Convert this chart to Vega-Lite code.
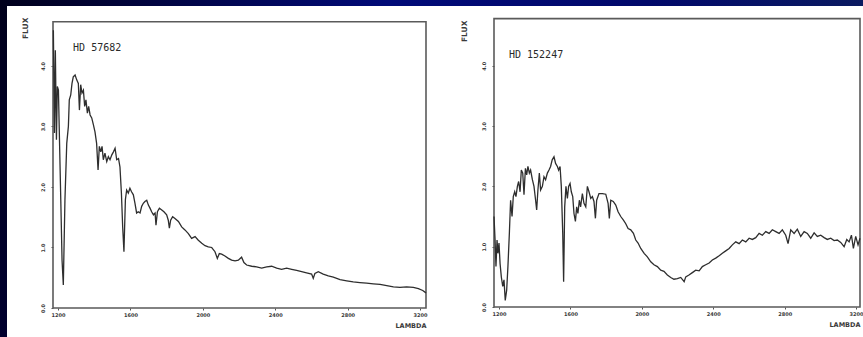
{
  "$schema": "https://vega.github.io/schema/vega-lite/v6.json",
  "padding": 0,
  "background": "white",
  "spacing": 0,
  "config": {
    "view": {"stroke": null},
    "axis": {"grid": false, "domain": false, "tickSize": 2, "tickColor": "#555", "labelColor": "#3a3a3a", "labelFont": "DejaVu Sans", "labelFontWeight": "bold", "titleFont": "DejaVu Sans", "titleFontWeight": "bold", "titleColor": "#3a3a3a"}
  },
  "datasets": {
    "hd57682": [
      {"wavelength": 1174, "flux": 4.59}, {"wavelength": 1180, "flux": 2.89}, {"wavelength": 1185, "flux": 4.26}, {"wavelength": 1191, "flux": 2.78}, {"wavelength": 1196, "flux": 3.66}, {"wavelength": 1202, "flux": 3.60}, {"wavelength": 1207, "flux": 2.89}, {"wavelength": 1215, "flux": 1.79}, {"wavelength": 1222, "flux": 0.79}, {"wavelength": 1229, "flux": 0.38}, {"wavelength": 1238, "flux": 1.79}, {"wavelength": 1248, "flux": 2.72}, {"wavelength": 1257, "flux": 3.00}, {"wavelength": 1262, "flux": 3.44}, {"wavelength": 1270, "flux": 3.52}, {"wavelength": 1277, "flux": 3.71}, {"wavelength": 1284, "flux": 3.82}, {"wavelength": 1294, "flux": 3.85}, {"wavelength": 1303, "flux": 3.77}, {"wavelength": 1312, "flux": 3.71}, {"wavelength": 1318, "flux": 3.27}, {"wavelength": 1325, "flux": 3.69}, {"wavelength": 1332, "flux": 3.55}, {"wavelength": 1340, "flux": 3.60}, {"wavelength": 1347, "flux": 3.33}, {"wavelength": 1354, "flux": 3.44}, {"wavelength": 1362, "flux": 3.22}, {"wavelength": 1369, "flux": 3.33}, {"wavelength": 1377, "flux": 3.19}, {"wavelength": 1386, "flux": 3.14}, {"wavelength": 1395, "flux": 3.03}, {"wavelength": 1404, "flux": 2.91}, {"wavelength": 1413, "flux": 2.72}, {"wavelength": 1421, "flux": 2.28}, {"wavelength": 1428, "flux": 2.67}, {"wavelength": 1436, "flux": 2.58}, {"wavelength": 1443, "flux": 2.67}, {"wavelength": 1450, "flux": 2.45}, {"wavelength": 1459, "flux": 2.56}, {"wavelength": 1469, "flux": 2.42}, {"wavelength": 1478, "flux": 2.50}, {"wavelength": 1487, "flux": 2.45}, {"wavelength": 1497, "flux": 2.53}, {"wavelength": 1506, "flux": 2.58}, {"wavelength": 1515, "flux": 2.64}, {"wavelength": 1524, "flux": 2.45}, {"wavelength": 1534, "flux": 2.47}, {"wavelength": 1542, "flux": 2.33}, {"wavelength": 1550, "flux": 1.90}, {"wavelength": 1557, "flux": 1.34}, {"wavelength": 1564, "flux": 0.93}, {"wavelength": 1572, "flux": 1.79}, {"wavelength": 1579, "flux": 1.95}, {"wavelength": 1588, "flux": 1.90}, {"wavelength": 1597, "flux": 1.98}, {"wavelength": 1606, "flux": 1.92}, {"wavelength": 1616, "flux": 1.87}, {"wavelength": 1625, "flux": 1.73}, {"wavelength": 1634, "flux": 1.57}, {"wavelength": 1643, "flux": 1.59}, {"wavelength": 1653, "flux": 1.57}, {"wavelength": 1662, "flux": 1.68}, {"wavelength": 1671, "flux": 1.73}, {"wavelength": 1680, "flux": 1.76}, {"wavelength": 1690, "flux": 1.78}, {"wavelength": 1699, "flux": 1.70}, {"wavelength": 1708, "flux": 1.65}, {"wavelength": 1717, "flux": 1.59}, {"wavelength": 1727, "flux": 1.54}, {"wavelength": 1736, "flux": 1.57}, {"wavelength": 1741, "flux": 1.37}, {"wavelength": 1749, "flux": 1.59}, {"wavelength": 1760, "flux": 1.65}, {"wavelength": 1773, "flux": 1.62}, {"wavelength": 1785, "flux": 1.59}, {"wavelength": 1800, "flux": 1.54}, {"wavelength": 1809, "flux": 1.45}, {"wavelength": 1815, "flux": 1.32}, {"wavelength": 1822, "flux": 1.45}, {"wavelength": 1833, "flux": 1.51}, {"wavelength": 1846, "flux": 1.48}, {"wavelength": 1865, "flux": 1.43}, {"wavelength": 1883, "flux": 1.34}, {"wavelength": 1901, "flux": 1.29}, {"wavelength": 1920, "flux": 1.23}, {"wavelength": 1938, "flux": 1.15}, {"wavelength": 1957, "flux": 1.18}, {"wavelength": 1975, "flux": 1.12}, {"wavelength": 1994, "flux": 1.07}, {"wavelength": 2012, "flux": 1.03}, {"wavelength": 2030, "flux": 1.01}, {"wavelength": 2049, "flux": 1.00}, {"wavelength": 2067, "flux": 0.93}, {"wavelength": 2080, "flux": 0.82}, {"wavelength": 2091, "flux": 0.90}, {"wavelength": 2104, "flux": 0.89}, {"wavelength": 2122, "flux": 0.86}, {"wavelength": 2141, "flux": 0.82}, {"wavelength": 2159, "flux": 0.79}, {"wavelength": 2178, "flux": 0.78}, {"wavelength": 2196, "flux": 0.79}, {"wavelength": 2214, "flux": 0.84}, {"wavelength": 2227, "flux": 0.75}, {"wavelength": 2242, "flux": 0.71}, {"wavelength": 2270, "flux": 0.69}, {"wavelength": 2297, "flux": 0.68}, {"wavelength": 2325, "flux": 0.66}, {"wavelength": 2353, "flux": 0.68}, {"wavelength": 2380, "flux": 0.69}, {"wavelength": 2408, "flux": 0.66}, {"wavelength": 2435, "flux": 0.64}, {"wavelength": 2463, "flux": 0.66}, {"wavelength": 2491, "flux": 0.64}, {"wavelength": 2518, "flux": 0.62}, {"wavelength": 2546, "flux": 0.60}, {"wavelength": 2573, "flux": 0.58}, {"wavelength": 2601, "flux": 0.56}, {"wavelength": 2610, "flux": 0.49}, {"wavelength": 2619, "flux": 0.57}, {"wavelength": 2638, "flux": 0.60}, {"wavelength": 2665, "flux": 0.56}, {"wavelength": 2693, "flux": 0.53}, {"wavelength": 2721, "flux": 0.51}, {"wavelength": 2758, "flux": 0.47}, {"wavelength": 2795, "flux": 0.45}, {"wavelength": 2831, "flux": 0.43}, {"wavelength": 2868, "flux": 0.42}, {"wavelength": 2905, "flux": 0.41}, {"wavelength": 2942, "flux": 0.40}, {"wavelength": 2979, "flux": 0.39}, {"wavelength": 3016, "flux": 0.37}, {"wavelength": 3053, "flux": 0.35}, {"wavelength": 3089, "flux": 0.34}, {"wavelength": 3126, "flux": 0.35}, {"wavelength": 3163, "flux": 0.34}, {"wavelength": 3191, "flux": 0.32}, {"wavelength": 3215, "flux": 0.29}, {"wavelength": 3233, "flux": 0.25}
    ],
    "hd152247": [
      {"wavelength": 1172, "flux": 1.50}, {"wavelength": 1178, "flux": 1.11}, {"wavelength": 1183, "flux": 0.67}, {"wavelength": 1189, "flux": 1.11}, {"wavelength": 1194, "flux": 0.89}, {"wavelength": 1200, "flux": 1.06}, {"wavelength": 1206, "flux": 0.72}, {"wavelength": 1213, "flux": 0.50}, {"wavelength": 1221, "flux": 0.34}, {"wavelength": 1228, "flux": 0.45}, {"wavelength": 1235, "flux": 0.11}, {"wavelength": 1243, "flux": 0.28}, {"wavelength": 1250, "flux": 0.67}, {"wavelength": 1258, "flux": 1.22}, {"wavelength": 1265, "flux": 1.77}, {"wavelength": 1273, "flux": 1.50}, {"wavelength": 1280, "flux": 1.83}, {"wavelength": 1288, "flux": 1.91}, {"wavelength": 1295, "flux": 1.83}, {"wavelength": 1303, "flux": 2.00}, {"wavelength": 1310, "flux": 2.08}, {"wavelength": 1318, "flux": 1.91}, {"wavelength": 1325, "flux": 2.27}, {"wavelength": 1333, "flux": 2.22}, {"wavelength": 1340, "flux": 1.86}, {"wavelength": 1348, "flux": 2.30}, {"wavelength": 1355, "flux": 2.19}, {"wavelength": 1362, "flux": 2.33}, {"wavelength": 1370, "flux": 2.22}, {"wavelength": 1377, "flux": 2.27}, {"wavelength": 1387, "flux": 2.11}, {"wavelength": 1396, "flux": 2.00}, {"wavelength": 1405, "flux": 1.77}, {"wavelength": 1411, "flux": 1.61}, {"wavelength": 1418, "flux": 1.94}, {"wavelength": 1426, "flux": 2.22}, {"wavelength": 1433, "flux": 1.94}, {"wavelength": 1443, "flux": 2.00}, {"wavelength": 1452, "flux": 2.16}, {"wavelength": 1461, "flux": 2.11}, {"wavelength": 1471, "flux": 2.22}, {"wavelength": 1480, "flux": 2.27}, {"wavelength": 1489, "flux": 2.33}, {"wavelength": 1498, "flux": 2.44}, {"wavelength": 1508, "flux": 2.49}, {"wavelength": 1517, "flux": 2.38}, {"wavelength": 1527, "flux": 2.33}, {"wavelength": 1534, "flux": 2.27}, {"wavelength": 1542, "flux": 2.33}, {"wavelength": 1549, "flux": 2.00}, {"wavelength": 1557, "flux": 1.22}, {"wavelength": 1562, "flux": 0.42}, {"wavelength": 1568, "flux": 1.66}, {"wavelength": 1575, "flux": 2.00}, {"wavelength": 1583, "flux": 1.80}, {"wavelength": 1590, "flux": 2.00}, {"wavelength": 1598, "flux": 2.05}, {"wavelength": 1605, "flux": 1.91}, {"wavelength": 1613, "flux": 1.83}, {"wavelength": 1620, "flux": 1.55}, {"wavelength": 1628, "flux": 1.42}, {"wavelength": 1635, "flux": 1.66}, {"wavelength": 1642, "flux": 1.55}, {"wavelength": 1650, "flux": 1.77}, {"wavelength": 1657, "flux": 1.66}, {"wavelength": 1667, "flux": 1.88}, {"wavelength": 1676, "flux": 1.72}, {"wavelength": 1686, "flux": 1.66}, {"wavelength": 1695, "flux": 2.00}, {"wavelength": 1704, "flux": 1.91}, {"wavelength": 1714, "flux": 1.80}, {"wavelength": 1723, "flux": 1.83}, {"wavelength": 1732, "flux": 1.75}, {"wavelength": 1740, "flux": 1.47}, {"wavelength": 1747, "flux": 1.77}, {"wavelength": 1760, "flux": 1.88}, {"wavelength": 1779, "flux": 1.88}, {"wavelength": 1798, "flux": 1.87}, {"wavelength": 1811, "flux": 1.72}, {"wavelength": 1818, "flux": 1.47}, {"wavelength": 1826, "flux": 1.77}, {"wavelength": 1840, "flux": 1.75}, {"wavelength": 1854, "flux": 1.69}, {"wavelength": 1867, "flux": 1.58}, {"wavelength": 1882, "flux": 1.50}, {"wavelength": 1897, "flux": 1.44}, {"wavelength": 1910, "flux": 1.38}, {"wavelength": 1923, "flux": 1.30}, {"wavelength": 1938, "flux": 1.28}, {"wavelength": 1953, "flux": 1.22}, {"wavelength": 1966, "flux": 1.11}, {"wavelength": 1979, "flux": 1.06}, {"wavelength": 1994, "flux": 0.97}, {"wavelength": 2013, "flux": 0.89}, {"wavelength": 2031, "flux": 0.83}, {"wavelength": 2050, "flux": 0.75}, {"wavelength": 2068, "flux": 0.70}, {"wavelength": 2087, "flux": 0.67}, {"wavelength": 2106, "flux": 0.61}, {"wavelength": 2124, "flux": 0.59}, {"wavelength": 2143, "flux": 0.53}, {"wavelength": 2162, "flux": 0.49}, {"wavelength": 2180, "flux": 0.46}, {"wavelength": 2199, "flux": 0.47}, {"wavelength": 2218, "flux": 0.49}, {"wavelength": 2237, "flux": 0.42}, {"wavelength": 2246, "flux": 0.50}, {"wavelength": 2264, "flux": 0.53}, {"wavelength": 2283, "flux": 0.57}, {"wavelength": 2302, "flux": 0.61}, {"wavelength": 2321, "flux": 0.60}, {"wavelength": 2339, "flux": 0.67}, {"wavelength": 2358, "flux": 0.70}, {"wavelength": 2377, "flux": 0.73}, {"wavelength": 2395, "flux": 0.78}, {"wavelength": 2414, "flux": 0.81}, {"wavelength": 2433, "flux": 0.85}, {"wavelength": 2451, "flux": 0.89}, {"wavelength": 2470, "flux": 0.93}, {"wavelength": 2489, "flux": 0.97}, {"wavelength": 2507, "flux": 1.03}, {"wavelength": 2526, "flux": 1.08}, {"wavelength": 2545, "flux": 1.05}, {"wavelength": 2563, "flux": 1.11}, {"wavelength": 2582, "flux": 1.08}, {"wavelength": 2601, "flux": 1.14}, {"wavelength": 2619, "flux": 1.12}, {"wavelength": 2638, "flux": 1.15}, {"wavelength": 2657, "flux": 1.22}, {"wavelength": 2675, "flux": 1.19}, {"wavelength": 2694, "flux": 1.25}, {"wavelength": 2713, "flux": 1.22}, {"wavelength": 2731, "flux": 1.28}, {"wavelength": 2750, "flux": 1.25}, {"wavelength": 2769, "flux": 1.22}, {"wavelength": 2787, "flux": 1.28}, {"wavelength": 2806, "flux": 1.19}, {"wavelength": 2819, "flux": 1.05}, {"wavelength": 2834, "flux": 1.28}, {"wavelength": 2853, "flux": 1.22}, {"wavelength": 2871, "flux": 1.29}, {"wavelength": 2890, "flux": 1.17}, {"wavelength": 2909, "flux": 1.25}, {"wavelength": 2927, "flux": 1.22}, {"wavelength": 2946, "flux": 1.14}, {"wavelength": 2965, "flux": 1.23}, {"wavelength": 2983, "flux": 1.17}, {"wavelength": 3002, "flux": 1.19}, {"wavelength": 3021, "flux": 1.15}, {"wavelength": 3039, "flux": 1.12}, {"wavelength": 3058, "flux": 1.14}, {"wavelength": 3077, "flux": 1.10}, {"wavelength": 3095, "flux": 1.11}, {"wavelength": 3114, "flux": 1.07}, {"wavelength": 3133, "flux": 1.00}, {"wavelength": 3148, "flux": 1.12}, {"wavelength": 3161, "flux": 1.08}, {"wavelength": 3174, "flux": 1.19}, {"wavelength": 3185, "flux": 0.97}, {"wavelength": 3198, "flux": 1.17}, {"wavelength": 3211, "flux": 1.03}, {"wavelength": 3222, "flux": 1.14}
    ]
  },
  "vconcat": [
    {
      "width": 863,
      "height": 6,
      "data": {"values": [{"band": "top"}]},
      "mark": {"type": "rect", "fill": {"gradient": "linear", "x1": 0, "x2": 1, "y1": 0, "y2": 0, "stops": [{"offset": 0, "color": "#00001c"}, {"offset": 0.45, "color": "#000a78"}, {"offset": 0.75, "color": "#00086a"}, {"offset": 1, "color": "#0a1a60"}]}},
      "encoding": {}
    },
    {
      "spacing": 14,
      "hconcat": [
        {
          "width": 7,
          "height": 331,
          "data": {"values": [{"band": "left"}]},
          "mark": {"type": "rect", "fill": {"gradient": "linear", "x1": 0, "x2": 0, "y1": 0, "y2": 1, "stops": [{"offset": 0, "color": "#00001c"}, {"offset": 1, "color": "#00002e"}]}},
          "encoding": {}
        },
        {
          "spacing": 31,
          "hconcat": [
            {
              "width": 373,
              "height": 302,
              "layer": [
                {
                  "data": {"values": [{"part": "frame"}]},
                  "mark": {"type": "rect", "fill": null, "stroke": "#5a5a5a", "strokeWidth": 1.6},
                  "encoding": {
                    "x": {"datum": 1172, "type": "quantitative"},
                    "x2": {"datum": 3233},
                    "y": {"datum": 0, "type": "quantitative"},
                    "y2": {"datum": 4.73}
                  }
                },
                {
                  "data": {"name": "hd57682"},
                  "mark": {"type": "line", "color": "#2e2e2e", "strokeWidth": 1.3},
                  "encoding": {
                    "x": {"field": "wavelength", "type": "quantitative", "scale": {"domain": [1172, 3233], "nice": false, "zero": false},
                      "axis": {"values": [1200, 1400, 1600, 1800, 2000, 2200, 2400, 2600, 2800, 3000, 3200], "format": "d", "labelFontSize": 5, "labelPadding": 2, "labelFlush": false, "title": "LAMBDA", "titleAnchor": "end", "titleFontSize": 6.5, "titlePadding": 5}},
                    "y": {"field": "flux", "type": "quantitative", "scale": {"domain": [0, 4.99], "nice": false, "zero": false},
                      "axis": {"values": [0, 1, 2, 3, 4], "format": ".1f", "labelAngle": -90, "labelFontSize": 5, "labelPadding": 6, "title": "FLUX", "titleX": -28, "titleY": 11, "titleAlign": "right", "titleAngle": -90, "titleBaseline": "middle", "titleFontSize": 7.5}}
                  }
                },
                {
                  "data": {"values": [{"star": "HD 57682", "wavelength": 1283, "flux": 4.30}]},
                  "mark": {"type": "text", "align": "left", "baseline": "middle", "font": "DejaVu Sans Mono", "fontSize": 10, "color": "#2a2a2a"},
                  "encoding": {
                    "x": {"field": "wavelength", "type": "quantitative"},
                    "y": {"field": "flux", "type": "quantitative"},
                    "text": {"field": "star"}
                  }
                }
              ]
            },
            {
              "width": 366,
              "height": 301,
              "layer": [
                {
                  "data": {"values": [{"part": "frame"}]},
                  "mark": {"type": "rect", "fill": null, "stroke": "#5a5a5a", "strokeWidth": 1.6},
                  "encoding": {
                    "x": {"datum": 1172, "type": "quantitative"},
                    "x2": {"datum": 3222},
                    "y": {"datum": 0, "type": "quantitative"},
                    "y2": {"datum": 4.78}
                  }
                },
                {
                  "data": {"name": "hd152247"},
                  "mark": {"type": "line", "color": "#2e2e2e", "strokeWidth": 1.3},
                  "encoding": {
                    "x": {"field": "wavelength", "type": "quantitative", "scale": {"domain": [1172, 3222], "nice": false, "zero": false},
                      "axis": {"values": [1200, 1400, 1600, 1800, 2000, 2200, 2400, 2600, 2800, 3000, 3200], "format": "d", "labelFontSize": 5, "labelPadding": 2, "labelFlush": false, "title": "LAMBDA", "titleAnchor": "end", "titleFontSize": 6.5, "titlePadding": 5}},
                    "y": {"field": "flux", "type": "quantitative", "scale": {"domain": [0, 4.99], "nice": false, "zero": false},
                      "axis": {"values": [0, 1, 2, 3, 4], "format": ".1f", "labelAngle": -90, "labelFontSize": 5, "labelPadding": 6, "title": "FLUX", "titleX": -30, "titleY": 14, "titleAlign": "right", "titleAngle": -90, "titleBaseline": "middle", "titleFontSize": 7.5}}
                  }
                },
                {
                  "data": {"values": [{"star": "HD 152247", "wavelength": 1256, "flux": 4.18}]},
                  "mark": {"type": "text", "align": "left", "baseline": "middle", "font": "DejaVu Sans Mono", "fontSize": 10, "color": "#2a2a2a"},
                  "encoding": {
                    "x": {"field": "wavelength", "type": "quantitative"},
                    "y": {"field": "flux", "type": "quantitative"},
                    "text": {"field": "star"}
                  }
                }
              ]
            }
          ]
        }
      ]
    }
  ]
}
